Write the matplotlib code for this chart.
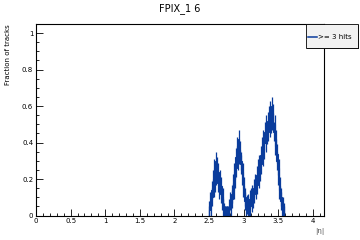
import numpy as np
import matplotlib
matplotlib.use('Agg')
import matplotlib.pyplot as plt
from matplotlib.ticker import MultipleLocator, FuncFormatter

# histogram: 0.01 wide bins in |eta|, starting at 2.49
bin_start = 2.49
bin_width = 0.01
frac = [0.00, 0.03, 0.08, 0.05, 0.14, 0.10, 0.20, 0.15, 0.26, 0.18,
        0.30, 0.22, 0.27, 0.18, 0.24, 0.14, 0.20, 0.12, 0.16, 0.08,
        0.10, 0.04, 0.02, 0.00,
        0.00, 0.00, 0.00, 0.00, 0.00, 0.00,
        0.04, 0.08, 0.05, 0.12, 0.09, 0.18, 0.14, 0.24, 0.20, 0.32,
        0.26, 0.38, 0.30, 0.42, 0.33, 0.36, 0.28, 0.30, 0.22, 0.24,
        0.15, 0.16, 0.08, 0.10, 0.04, 0.06,
        0.03, 0.07, 0.04, 0.09, 0.05, 0.10, 0.07, 0.12, 0.09, 0.15,
        0.12, 0.18, 0.14, 0.22, 0.17, 0.26, 0.20, 0.28, 0.24, 0.33,
        0.28, 0.38, 0.32, 0.42, 0.36, 0.46, 0.40, 0.50, 0.44, 0.52,
        0.46, 0.55, 0.48, 0.58, 0.50, 0.60, 0.52, 0.56, 0.46, 0.50,
        0.38, 0.42, 0.30, 0.34, 0.22, 0.26, 0.14, 0.16, 0.08, 0.10,
        0.04, 0.05, 0.02, 0.00]
err = 0.05

title = 'FPIX_1 6'
legend_label = '>= 3 hits'
blue = '#0a3c9c'

fig = plt.figure(figsize=(3.6, 2.4), dpi=100)
ax = fig.add_axes([0.1, 0.102, 0.8, 0.798])

edges = bin_start + bin_width*np.arange(len(frac) + 1)
centers = 0.5*(edges[:-1] + edges[1:])
vals = np.array(frac)

ax.stairs(vals, edges, color=blue, lw=0.8)
ax.errorbar(centers, vals, yerr=err, fmt='none', ecolor=blue, elinewidth=0.9)

ax.set_xlim(0, 4.16)
ax.set_ylim(0, 1.05)
ax.xaxis.set_major_locator(MultipleLocator(0.5))
ax.xaxis.set_minor_locator(MultipleLocator(0.1))
ax.yaxis.set_major_locator(MultipleLocator(0.2))
ax.yaxis.set_minor_locator(MultipleLocator(0.05))
ax.tick_params(which='both', direction='in', labelsize=5, width=0.6, pad=2)
ax.tick_params(which='major', length=5)
ax.tick_params(which='minor', length=2.5)
ax.xaxis.set_major_formatter(FuncFormatter(lambda v, p: '%g' % v))
ax.yaxis.set_major_formatter(FuncFormatter(lambda v, p: '%g' % v))
for s in ax.spines.values():
    s.set_linewidth(0.8)

ax.set_ylabel('Fraction of tracks', fontsize=5, loc='top', labelpad=8)
ax.set_xlabel('|η|', fontsize=5, loc='right', color='#555555', labelpad=3)
fig.text(0.5, 0.965, title, ha='center', va='center', fontsize=7)

# legend box with thin shadow
fig.patches.append(plt.Rectangle((0.853, 0.796), 0.144, 0.101, transform=fig.transFigure,
                                 facecolor='black', edgecolor='none', zorder=5))
fig.patches.append(plt.Rectangle((0.85, 0.8), 0.144, 0.1, transform=fig.transFigure,
                                 facecolor='#f2f2f2', edgecolor='black', lw=0.6, zorder=6))
fig.lines.append(plt.Line2D([0.856, 0.881], [0.846, 0.846], transform=fig.transFigure,
                            color=blue, lw=1.1, zorder=7))
fig.text(0.884, 0.846, legend_label, fontsize=5, va='center', ha='left', zorder=7)

fig.savefig('out.png', dpi=100)
